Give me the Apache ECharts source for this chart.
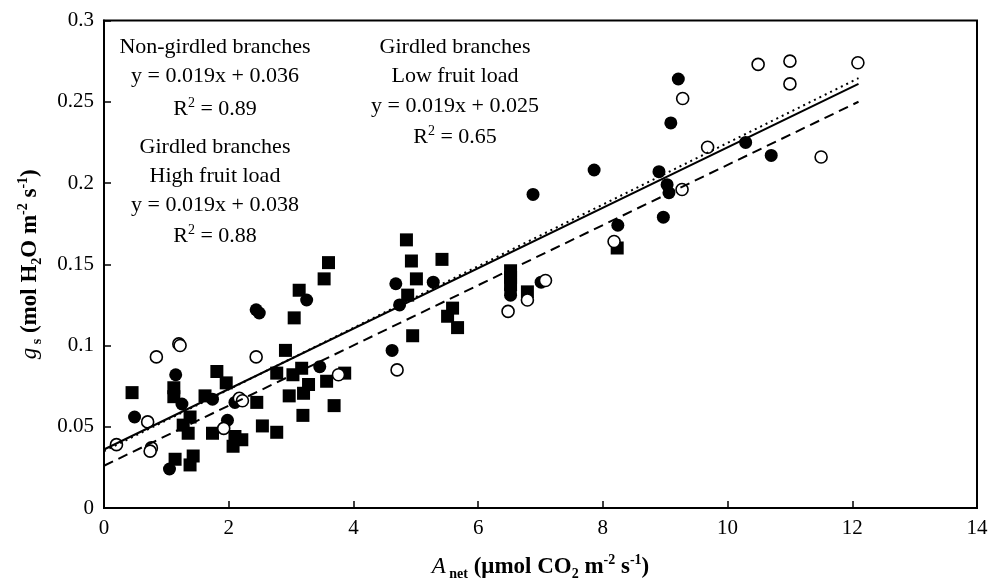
<!DOCTYPE html>
<html>
<head>
<meta charset="utf-8">
<script src="https://cdn.jsdelivr.net/npm/echarts@6/dist/echarts.min.js"></script>
<style>
  html, body { margin: 0; padding: 0; background: #fff; }
  #container { width: 990px; height: 581px; }
</style>
</head>
<body>
<div id="container"></div>
<script>
// filled circles: non-girdled branches
var nonGirdled = [
  [0.49, 0.056], [1.15, 0.082], [1.25, 0.064], [1.05, 0.024], [1.74, 0.067],
  [1.98, 0.054], [2.10, 0.065], [2.44, 0.122], [2.49, 0.120], [3.25, 0.128],
  [3.46, 0.087], [4.62, 0.097], [4.68, 0.138], [4.74, 0.125], [5.28, 0.139],
  [6.52, 0.134], [6.52, 0.131], [7.01, 0.139], [6.88, 0.193], [7.86, 0.208],
  [8.24, 0.174], [8.90, 0.207], [8.97, 0.179], [9.03, 0.199], [9.06, 0.194],
  [9.09, 0.237], [9.21, 0.264], [10.29, 0.225], [10.70, 0.217]
];
// open circles: girdled, low fruit load
var lowLoad = [
  [0.20, 0.039], [0.70, 0.053], [0.76, 0.037], [0.74, 0.035], [0.84, 0.093],
  [1.20, 0.101], [1.22, 0.100], [1.92, 0.049], [2.17, 0.0675], [2.22, 0.066],
  [2.44, 0.093], [3.76, 0.082], [4.70, 0.085], [6.48, 0.121], [6.79, 0.128],
  [7.08, 0.140], [8.18, 0.164], [9.27, 0.196], [9.28, 0.252], [9.68, 0.222],
  [10.49, 0.273], [11.0, 0.275], [11.0, 0.261], [11.5, 0.216], [12.09, 0.274]
];
// squares: girdled, high fruit load
var highLoad = [
  [0.45, 0.071], [1.12, 0.074], [1.12, 0.0685], [1.14, 0.030], [1.38, 0.0265],
  [1.43, 0.032], [1.38, 0.056], [1.27, 0.051], [1.35, 0.046], [1.62, 0.069],
  [1.81, 0.084], [1.96, 0.077], [1.74, 0.046], [2.10, 0.044], [2.21, 0.042],
  [2.07, 0.038], [2.45, 0.065], [2.54, 0.0505], [2.77, 0.0466], [2.77, 0.083],
  [2.91, 0.097], [2.97, 0.069], [3.03, 0.082], [3.05, 0.117], [3.13, 0.134],
  [3.17, 0.086], [3.20, 0.0706], [3.19, 0.057], [3.28, 0.076], [3.53, 0.141],
  [3.57, 0.078], [3.60, 0.151], [3.69, 0.063], [3.86, 0.083], [4.85, 0.165],
  [4.87, 0.131], [4.93, 0.152], [4.95, 0.106], [5.01, 0.141], [5.42, 0.153],
  [5.51, 0.118], [5.59, 0.123], [5.67, 0.111], [6.52, 0.146], [6.52, 0.142],
  [6.52, 0.138], [6.79, 0.133], [8.23, 0.160]
];
// fitted lines (end points)
var fitNonGirdled = [[0, 0.036], [12.1, 0.261]];
var fitLowLoad = [[0, 0.026], [12.1, 0.250]];
var fitHighLoad = [[0, 0.035], [12.1, 0.2645]];

var noteLeft = [
  'Non-girdled branches', 'y = 0.019x + 0.036', 'R{sup|2} = 0.89',
  'Girdled branches', 'High fruit load', 'y = 0.019x + 0.038', 'R{sup|2} = 0.88'
];
var noteLeftY = [47, 76, 109, 147, 176, 205, 236];
var noteRight = ['Girdled branches', 'Low fruit load', 'y = 0.019x + 0.025', 'R{sup|2} = 0.65'];
var noteRightY = [47, 76, 106, 137];

var FONT = 'Liberation Serif';

var dom = document.getElementById('container');
var myChart = echarts.init(dom, null, { renderer: 'canvas' });

var nameRich = {
  n: { fontFamily: FONT, fontSize: 23, fontWeight: 'bold', color: '#000', lineHeight: 28, verticalAlign: 'middle' },
  i: { fontFamily: FONT, fontSize: 23, fontStyle: 'italic', color: '#000', lineHeight: 28, verticalAlign: 'middle' },
  sub: { fontFamily: FONT, fontSize: 14, fontWeight: 'bold', color: '#000', lineHeight: 13, verticalAlign: 'bottom' },
  sup: { fontFamily: FONT, fontSize: 14, fontWeight: 'bold', color: '#000', lineHeight: 14, verticalAlign: 'top' }
};

var noteRich = {
  sup: { fontFamily: FONT, fontSize: 14, color: '#000', lineHeight: 14, verticalAlign: 'top' }
};

function noteText(txt, x, y) {
  return {
    type: 'text',
    x: x,
    y: y,
    style: {
      text: txt,
      fontFamily: FONT,
      fontSize: 22,
      fill: '#000',
      align: 'center',
      verticalAlign: 'middle',
      lineHeight: 26,
      rich: noteRich
    }
  };
}

var graphics = [];
noteLeft.forEach(function (t, k) { graphics.push(noteText(t, 215, noteLeftY[k])); });
noteRight.forEach(function (t, k) { graphics.push(noteText(t, 455, noteRightY[k])); });

var option = {
  backgroundColor: '#fff',
  animation: false,
  grid: {
    left: 104, right: 13, top: 20.5, bottom: 73,
    containLabel: false, outerBoundsMode: 'none',
    show: true, borderColor: '#000', borderWidth: 2, backgroundColor: 'transparent'
  },
  xAxis: {
    type: 'value',
    min: 0, max: 14, interval: 2,
    name: '{i|A}{sub| net}{n| (μmol CO}{sub|2}{n| m}{sup|-2}{n| s}{sup|-1}{n|)}',
    nameLocation: 'middle',
    nameGap: 45,
    nameTextStyle: { rich: nameRich },
    axisLine: { lineStyle: { color: '#000', width: 2 } },
    axisTick: { inside: true, length: 7, lineStyle: { color: '#000', width: 1.5 } },
    axisLabel: { fontFamily: FONT, fontSize: 21, color: '#000', margin: 10 },
    splitLine: { show: false }
  },
  yAxis: {
    type: 'value',
    min: 0, max: 0.3, interval: 0.05,
    name: '{i|g}{sub| s}{n| (mol H}{sub|2}{n|O m}{sup|-2}{n| s}{sup|-1}{n|)}',
    nameLocation: 'middle',
    nameGap: 60,
    nameTextStyle: { rich: nameRich },
    axisLine: { lineStyle: { color: '#000', width: 2 } },
    axisTick: { inside: true, length: 7, lineStyle: { color: '#000', width: 1.5 } },
    axisLabel: {
      fontFamily: FONT, fontSize: 21, color: '#000', margin: 10,
      formatter: function (v) { return String(+v.toFixed(2)); }
    },
    splitLine: { show: false }
  },
  graphic: graphics,
  series: [
    {
      type: 'scatter', data: highLoad, symbol: 'rect', symbolSize: 13,
      itemStyle: { color: '#000', opacity: 1 }, z: 3
    },
    {
      type: 'scatter', data: nonGirdled, symbol: 'circle', symbolSize: 13,
      itemStyle: { color: '#000', opacity: 1 }, z: 3
    },
    {
      type: 'scatter', data: lowLoad, symbol: 'circle', symbolSize: 12,
      itemStyle: { color: '#fff', borderColor: '#000', borderWidth: 1.6, opacity: 1 }, z: 4
    },
    {
      type: 'line', data: fitNonGirdled, showSymbol: false, z: 5,
      lineStyle: { color: '#000', width: 2, type: 'solid' }
    },
    {
      type: 'line', data: fitLowLoad, showSymbol: false, z: 5,
      lineStyle: { color: '#000', width: 2, type: [10, 6] }
    },
    {
      type: 'line', data: fitHighLoad, showSymbol: false, z: 5,
      lineStyle: { color: '#000', width: 2, type: [2, 4] }
    }
  ]
};

myChart.setOption(option);
window.addEventListener('resize', myChart.resize);
</script>
</body>
</html>
